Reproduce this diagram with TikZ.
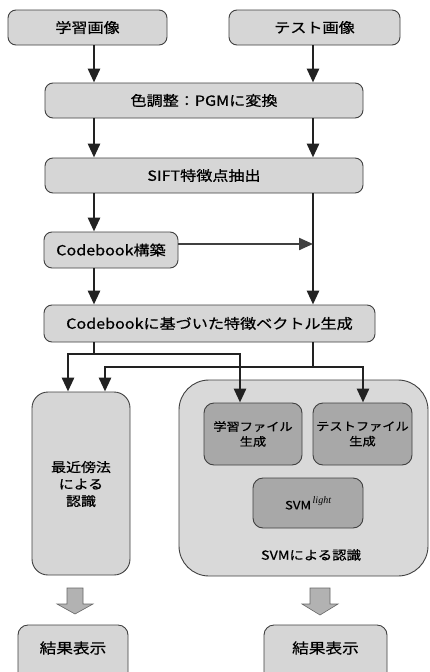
\documentclass[tikz,border=0pt]{standalone}
\usepackage{fontspec}
\setmainfont{Noto Sans CJK JP}[FakeStretch=1.15, FakeBold=0.6]
\newfontfamily\lightfont{Liberation Serif}
\usetikzlibrary{arrows.meta}
\definecolor{boxfill}{HTML}{D6D6D6}
\definecolor{innerfill}{HTML}{A8A8A8}
\definecolor{bigfill}{HTML}{D9D9D9}
\definecolor{linec}{HTML}{222222}
\definecolor{edgec}{HTML}{404040}
\tikzset{
  box/.style={draw=edgec, line width=0.9pt, fill=boxfill, rounded corners=8pt,
    inner sep=0pt, align=center, font=\fontsize{14}{16}\selectfont},
  innerbox/.style={draw=edgec, line width=0.9pt, fill=innerfill, rounded corners=10pt,
    inner sep=0pt, align=center, font=\fontsize{11.5}{15}\selectfont},
  conn/.style={draw=linec, line width=2.8pt, -{Triangle[length=14pt,width=12pt]}},
  plain/.style={draw=linec, line width=2.8pt},
  blockarrow/.style={fill=gray!60, draw=gray!80!black, line width=0.6pt},
}
\begin{document}
\begin{tikzpicture}[x=1pt,y=-1pt]
\useasboundingbox (0,0) rectangle (430,672);
\clip (0,0) rectangle (430,672);
\fill[white] (0,0) rectangle (430,672);

% top boxes
\node[box, minimum width=159pt, minimum height=35pt] (train) at (87.5,27.5) {学習画像};
\node[box, minimum width=171pt, minimum height=35pt] (test) at (314.5,27.5) {テスト画像};
\node[box, minimum width=318pt, minimum height=35pt] (color) at (204,100.5) {色調整：PGMに変換};
\node[box, minimum width=318pt, minimum height=35pt] (sift) at (204,175.5) {SIFT特徴点抽出};
\node[box, minimum width=134pt, minimum height=36pt] (cb) at (111,250) {Codebook構築};
\node[box, minimum width=331pt, minimum height=37pt] (vec) at (209.5,323.5) {Codebookに基づいた特徴ベクトル生成};

% lower left
\node[box, rounded corners=16pt, minimum width=98pt, minimum height=183pt,
  font=\fontsize{13}{17}\selectfont, text depth=0pt] (nn) at (81,483.5) {最近傍法\\による\\認識};

% big right container
\node[box, fill=bigfill, rounded corners=30pt, minimum width=249pt, minimum height=196pt] (big) at (303.5,478) {};
\node[innerbox, minimum width=98pt, minimum height=62pt] (trainf) at (253,434) {学習ファイル\\生成};
\node[innerbox, minimum width=99pt, minimum height=62pt] (testf) at (362.5,434) {テストファイル\\生成};
\node[innerbox, minimum width=110pt, minimum height=50pt] (svml) at (308,503)
  {SVM\raisebox{6pt}{\kern1.5pt\lightfont\itshape\fontsize{10}{10}\selectfont light}};
\node[font=\fontsize{12.5}{14}\selectfont] (biglabel) at (311,555) {SVMによる認識};

% results
\node[box, rounded corners=10pt, minimum width=110pt, minimum height=60pt] (res1) at (73,655) {};
\node[font=\fontsize{14.5}{16}\selectfont] (res1t) at (73,648) {結果表示};
\node[box, rounded corners=10pt, minimum width=123pt, minimum height=60pt] (res2) at (325.5,655) {};
\node[font=\fontsize{14.5}{16}\selectfont] (res2t) at (325.5,648) {結果表示};

% connectors
\coordinate (L) at (94,0);
\coordinate (R) at (313,0);
\draw[conn] (train.south -| L) -- (color.north -| L);
\draw[conn] (test.south -| R) -- (color.north -| R);
\draw[conn] (color.south -| L) -- (sift.north -| L);
\draw[conn] (color.south -| R) -- (sift.north -| R);
\draw[conn] (sift.south -| L) -- (cb.north -| L);
\draw[conn] (sift.south -| R) -- (vec.north -| R);
\coordinate (cbjoin) at (313,244);
\draw[conn, line width=2.2pt, draw=edgec] (cb.east |- cbjoin) -- (cbjoin);
\draw[conn] (cb.south -| L) -- (vec.north -| L);

% branches from vec
\coordinate (bl) at (94,354);
\coordinate (br) at (313,367);
\draw[plain] (vec.south -| bl) -- (bl);
\draw[plain] (vec.south -| br) -- (br);
\draw[conn] (bl) -| (68,354) -- (nn.north -| 68,0);
\draw[conn] (bl) -| (240,354) -- (trainf.north -| 240,0);
\draw[conn] (br) -| (105,367) -- (nn.north -| 105,0);
\draw[conn] (br) -| (363,367) -- (testf.north -| 363,0);

% block arrows
\draw[blockarrow] (67,588) -- (83,588) -- (83,604) -- (93,604) -- (75,614) -- (57,604) -- (67,604) -- cycle;
\draw[blockarrow] (310,588) -- (330,588) -- (330,604) -- (338,604) -- (320,615) -- (302,604) -- (310,604) -- cycle;
\end{tikzpicture}
\end{document}
